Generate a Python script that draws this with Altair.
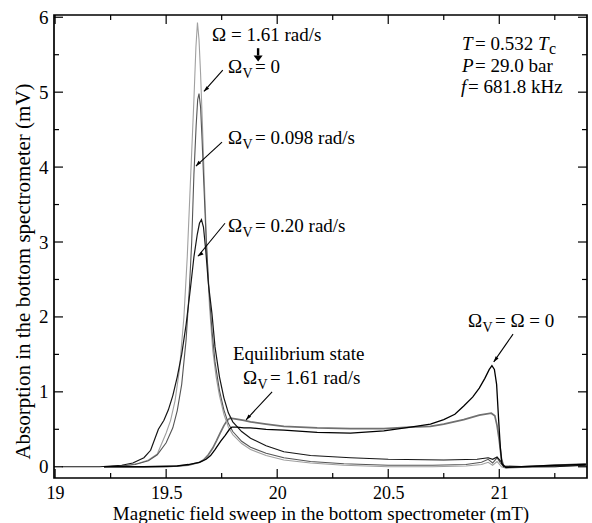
import altair as alt
import pandas as pd

# ---------------- data ----------------
# Omega = 1.61 rad/s, Omega_V = 0  (light gray)
a_x = [19.22, 19.28, 19.33, 19.38, 19.42, 19.46, 19.5, 19.52, 19.54, 19.56, 19.58, 19.595, 19.605,
       19.615, 19.625, 19.634, 19.641, 19.648, 19.655, 19.663, 19.672, 19.683, 19.695, 19.71, 19.725,
       19.74, 19.76, 19.78, 19.8, 19.84, 19.88, 19.95, 20.03, 20.15, 20.3, 20.5, 20.7, 20.85, 20.92,
       20.95, 20.97, 20.99, 21.01, 21.03, 21.1, 21.25, 21.39]
a_y = [0.0, 0.01, 0.02, 0.05, 0.09, 0.17, 0.45, 0.62, 0.88, 1.3, 2.0, 2.8, 3.5,
       4.2, 4.9, 5.6, 5.93, 5.7, 5.25, 4.6, 3.8, 2.9, 2.15, 1.55, 1.2,
       0.95, 0.7, 0.53, 0.43, 0.31, 0.23, 0.15, 0.09, 0.05, 0.02, 0.0, 0.0, 0.01, 0.03,
       0.06, 0.02, 0.07, 0.0, -0.02, -0.01, 0.0, 0.02]

# Omega_V = 0.098 rad/s (dark gray)
b_x = [19.22, 19.3, 19.36, 19.42, 19.46, 19.5, 19.53, 19.55, 19.57, 19.59, 19.605, 19.615, 19.625,
       19.635, 19.642, 19.648, 19.655, 19.662, 19.67, 19.68, 19.693, 19.707, 19.72, 19.74, 19.76,
       19.78, 19.8, 19.84, 19.88, 19.95, 20.03, 20.15, 20.3, 20.5, 20.7, 20.85, 20.92, 20.95, 20.97,
       20.99, 21.005, 21.02, 21.1, 21.25, 21.39]
b_y = [0.0, 0.01, 0.03, 0.08, 0.16, 0.32, 0.52, 0.75, 1.1, 1.7, 2.4, 3.0, 3.9,
       4.55, 4.9, 4.98, 4.8, 4.35, 3.75, 3.05, 2.35, 1.8, 1.4, 1.02, 0.76,
       0.58, 0.47, 0.34, 0.26, 0.18, 0.12, 0.07, 0.04, 0.02, 0.02, 0.03, 0.06, 0.1, 0.05,
       0.12, 0.05, 0.0, 0.0, 0.01, 0.03]

# Omega_V = 0.20 rad/s (black, wide peak with shoulder)
c_x = [19.03, 19.1, 19.2, 19.3, 19.35, 19.4, 19.43, 19.465, 19.49, 19.51, 19.53, 19.55, 19.57,
       19.59, 19.61, 19.625, 19.64, 19.65, 19.659, 19.668, 19.678, 19.69, 19.706, 19.72, 19.74,
       19.76, 19.78, 19.8, 19.84, 19.88, 19.95, 20.03, 20.15, 20.33, 20.5, 20.75, 20.9, 20.95,
       20.97, 20.99, 21.005, 21.02, 21.1, 21.25, 21.39]
c_y = [0.0, 0.0, 0.0, 0.02, 0.05, 0.12, 0.22, 0.5, 0.62, 0.76, 0.95, 1.2, 1.5,
       1.9, 2.4, 2.8, 3.1, 3.25, 3.3, 3.2, 2.9, 2.45, 2.05, 1.6, 1.2,
       0.92, 0.72, 0.6, 0.47, 0.38, 0.28, 0.2, 0.15, 0.12, 0.1, 0.09, 0.1, 0.12,
       0.1, 0.13, 0.08, 0.0, 0.0, 0.0, 0.02]

# Omega_V = Omega = 0 (black)
d_x = [19.22, 19.4, 19.55, 19.6, 19.65, 19.68, 19.7, 19.72, 19.745, 19.766, 19.785, 19.796, 19.82,
       19.85, 19.88, 19.95, 20.03, 20.18, 20.33, 20.48, 20.6, 20.69, 20.75, 20.8, 20.84, 20.88,
       20.91, 20.935, 20.955, 20.967, 20.978, 20.988, 20.997, 21.005, 21.012, 21.03, 21.1, 21.25,
       21.39]
d_y = [0.0, 0.0, 0.01, 0.03, 0.06, 0.1, 0.15, 0.23, 0.34, 0.42, 0.5, 0.53, 0.53,
       0.52, 0.52, 0.5, 0.49, 0.46, 0.45, 0.48, 0.53, 0.57, 0.63, 0.7, 0.81, 0.93,
       1.05, 1.18, 1.3, 1.35, 1.3, 1.1, 0.63, 0.25, 0.04, -0.01, 0.0, 0.02,
       0.03]

# Equilibrium state, Omega_V = 1.61 rad/s (medium gray)
e_x = [19.22, 19.5, 19.6, 19.65, 19.668, 19.69, 19.71, 19.727, 19.743, 19.76, 19.775, 19.788,
       19.81, 19.85, 19.88, 19.95, 20.03, 20.18, 20.33, 20.48, 20.6, 20.69, 20.75, 20.84, 20.91,
       20.964, 20.98, 20.99, 21.0, 21.01, 21.02, 21.1, 21.25, 21.39]
e_y = [0.0, 0.0, 0.02, 0.06, 0.09, 0.16, 0.25, 0.35, 0.45, 0.55, 0.62, 0.65,
       0.64, 0.62, 0.6, 0.57, 0.54, 0.52, 0.51, 0.51, 0.53, 0.54, 0.57, 0.63, 0.69,
       0.715, 0.68, 0.55, 0.35, 0.1, 0.01, 0.0, 0.02, 0.04]

series = [
    ("eq", e_x, e_y, "#707070", 1.7),
    ("w0", a_x, a_y, "#a0a0a0", 1.1),
    ("w098", b_x, b_y, "#555555", 1.1),
    ("w020", c_x, c_y, "#151515", 1.2),
    ("zero", d_x, d_y, "#000000", 1.3),
]

X_MAJOR = [19, 19.5, 20, 20.5, 21]
X_MINOR = [19.25, 19.75, 20.25, 20.75, 21.25]
Y_MAJOR = [0, 1, 2, 3, 4, 5, 6]
Y_MINOR = [0.5, 1.5, 2.5, 3.5, 4.5, 5.5]

# annotation anchors (data units)
plain_text = ["Ω = 1.61 rad/s", "Equilibrium state"]
plain_x = [19.707, 19.801]
plain_y = [5.68, 1.427]

omv_rest = ["= 0", "= 0.098 rad/s", "= 0.20 rad/s", "= Ω = 0", "= 1.61 rad/s"]
omv_x = [19.779, 19.779, 19.779, 20.859, 19.846]
omv_y = [5.253, 4.313, 3.133, 1.867, 1.107]

ital_text = ["T", "P", "f", "T"]
ital_x = [20.832, 20.832, 20.828, 21.174]
ital_y = [5.56, 5.267, 4.987, 5.56]
reg_text = ["= 0.532", "= 29.0 bar", "= 681.8 kHz"]
reg_x = [20.891, 20.891, 20.859]
reg_y = [5.56, 5.267, 4.987]
sub_c_x = [21.224]
sub_c_y = [5.507]

arr_x = [19.755, 19.7515, 19.765, 21.062, 19.977]
arr_y = [5.293, 4.333, 3.25, 1.77, 1.0]
arr_x2 = [19.670, 19.634, 19.643, 20.975, 19.860]
arr_y2 = [5.01, 4.013, 2.81, 1.40, 0.627]
arr_ang = [225, 224, 234, 217, 221]

down_x = [19.914]
down_y = [5.587]
down_y2 = [5.49]

# ---------------- chart ----------------
W, H = 533, 463
FONT = "Liberation Serif"
xs = alt.Scale(domain=[18.995, 21.395], nice=False, zero=False)
ys = alt.Scale(domain=[-0.15, 6.03], nice=False, zero=False)

AX = alt.Axis(
    values=X_MAJOR, format="~g", labelFont=FONT, labelFontSize=18, labelColor="black",
    labelFlush=False, labelOverlap=False, ticks=False, domain=False, grid=False,
    labelPadding=6, title="Magnetic field sweep in the bottom spectrometer (mT)",
    titleFont=FONT, titleFontSize=19, titleFontWeight="normal", titleColor="black",
    titleY=41, titleBaseline="alphabetic")
AY = alt.Axis(
    values=Y_MAJOR, format="d", labelFont=FONT, labelFontSize=19, labelColor="black",
    labelFlush=False, labelOverlap=False, ticks=False, domain=False, grid=False,
    labelPadding=6, title="Absorption in the bottom spectrometer  (mV)",
    titleFont=FONT, titleFontSize=21, titleFontWeight="normal", titleColor="black",
    titleX=-25, titleY=256, titleBaseline="alphabetic")


def X(field):
    return alt.X(field, scale=xs, axis=AX, title=AX.title)


def Y(field):
    return alt.Y(field, scale=ys, axis=AY, title=AY.title)


layers = []
for name, sx, sy, col, sw in series:
    df = pd.DataFrame({"x": sx, "y": sy})
    layers.append(alt.Chart(df).mark_line(color=col, strokeWidth=sw, clip=True)
                  .encode(x=X("x:Q"), y=Y("y:Q"), order=alt.Order("x:Q")))


# inward ticks
def xticks(vals, length):
    d = pd.DataFrame({"x": vals})
    bot = alt.Chart(d).mark_rule(color="black", strokeWidth=1.2).encode(
        x=X("x:Q"), y=alt.value(H), y2=alt.value(H - length))
    top = alt.Chart(d).mark_rule(color="black", strokeWidth=1.2).encode(
        x=X("x:Q"), y=alt.value(0), y2=alt.value(length))
    return [bot, top]


def yticks(vals, length):
    d = pd.DataFrame({"y": vals})
    lft = alt.Chart(d).mark_rule(color="black", strokeWidth=1.2).encode(
        y=Y("y:Q"), x=alt.value(0), x2=alt.value(length))
    rgt = alt.Chart(d).mark_rule(color="black", strokeWidth=1.2).encode(
        y=Y("y:Q"), x=alt.value(W), x2=alt.value(W - length))
    return [lft, rgt]


layers += xticks(X_MAJOR, 9) + xticks(X_MINOR, 5) + yticks(Y_MAJOR, 9) + yticks(Y_MINOR, 5)


def txt(df, **kw):
    base = dict(align="left", baseline="alphabetic", font=FONT, fontSize=19, color="black")
    base.update(kw)
    return alt.Chart(df).mark_text(**base).encode(x=X("x:Q"), y=Y("y:Q"), text="t:N")


layers.append(txt(pd.DataFrame({"x": plain_x, "y": plain_y, "t": plain_text})))
omv = pd.DataFrame({"x": omv_x, "y": omv_y, "rest": omv_rest})
layers.append(txt(omv.assign(t="Ω")))
layers.append(txt(omv.assign(t="V"), fontSize=14, dx=14.5, dy=5))
layers.append(txt(omv.assign(t=omv["rest"]), dx=27))
layers.append(txt(pd.DataFrame({"x": ital_x, "y": ital_y, "t": ital_text}), fontStyle="italic"))
layers.append(txt(pd.DataFrame({"x": reg_x, "y": reg_y, "t": reg_text})))
layers.append(txt(pd.DataFrame({"x": sub_c_x, "y": sub_c_y, "t": ["c"]}), fontSize=16))

# arrows
arr = pd.DataFrame({"x": arr_x, "y": arr_y, "x2": arr_x2, "y2": arr_y2, "a": arr_ang})
layers.append(alt.Chart(arr).mark_rule(color="black", strokeWidth=1.1).encode(
    x=X("x:Q"), y=Y("y:Q"), x2="x2:Q", y2="y2:Q"))
arr_tip = pd.DataFrame({"x": arr_x2, "y": arr_y2, "a": arr_ang})
layers.append(alt.Chart(arr_tip).mark_point(
    shape="M0,0L-0.45,1.4L0.45,1.4Z", filled=True, color="black", opacity=1, size=64,
    strokeWidth=0).encode(x=X("x:Q"), y=Y("y:Q"), angle=alt.Angle("a:Q", scale=None)))

down = pd.DataFrame({"x": down_x, "y": down_y, "y2": down_y2})
layers.append(alt.Chart(down).mark_rule(color="black", strokeWidth=2.4).encode(
    x=X("x:Q"), y=Y("y:Q"), y2="y2:Q"))
down_tip = pd.DataFrame({"x": down_x, "y": down_y2})
layers.append(alt.Chart(down_tip).mark_point(
    shape="M0,1L-0.75,0L0.75,0Z", filled=True, color="black", opacity=1, size=144,
    strokeWidth=0).encode(x=X("x:Q"), y=Y("y:Q")))

chart = alt.layer(*layers).properties(
    width=W, height=H, autosize=alt.AutoSizeParams(type="none"),
    padding={"left": 54, "top": 15, "right": 5, "bottom": 45},
    background="white",
).configure_view(stroke="black", strokeWidth=1.7)

chart.save("out.html", embed_options={"renderer": "svg", "actions": False})
